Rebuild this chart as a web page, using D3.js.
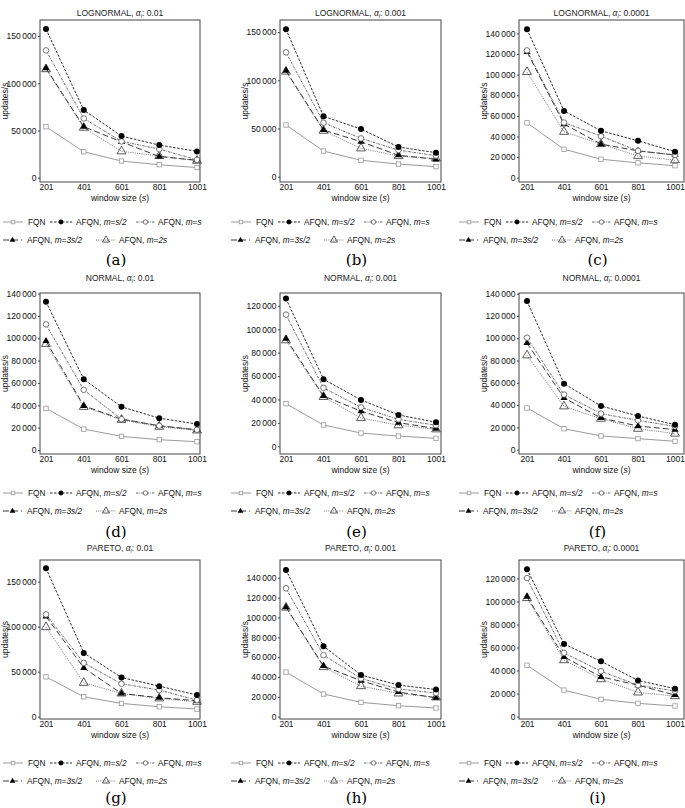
<!DOCTYPE html>
<html><head><meta charset="utf-8">
<script src="https://cdn.jsdelivr.net/npm/d3@7"></script>
<style>body{margin:0;background:#fff}svg{display:block}</style>
</head><body>
<svg id="c" width="685" height="808"></svg>
<script>
// ---------- DATA ----------
const windowSizes = [201, 401, 601, 801, 1001];
const distributions = ["LOGNORMAL","LOGNORMAL","LOGNORMAL","NORMAL","NORMAL","NORMAL","PARETO","PARETO","PARETO"];
const alphas = ["0.01","0.001","0.0001","0.01","0.001","0.0001","0.01","0.001","0.0001"];
const captions = ["(a)","(b)","(c)","(d)","(e)","(f)","(g)","(h)","(i)"];
const seriesNames = ["FQN","AFQN, m=s/2","AFQN, m=s","AFQN, m=3s/2","AFQN, m=2s"];
// one row per panel (a..i), values at windowSizes
const FQN = [
  [54000, 27500, 17700, 13800, 10800],
  [53600, 26600, 17000, 13100, 10400],
  [53200, 27600, 17900, 14400, 11600],
  [37200, 18700, 12200, 9200, 7400],
  [36400, 18200, 11300, 8700, 6800],
  [37400, 18800, 12300, 9900, 7500],
  [44200, 22100, 14700, 11000, 8500],
  [44900, 22800, 14400, 11000, 8700],
  [44600, 23000, 15000, 11500, 9200]
];
const AFQN_half = [
  [157400, 71600, 44100, 34600, 27900],
  [153000, 62600, 49400, 30800, 24900],
  [144000, 64800, 45500, 35800, 25200],
  [132600, 63300, 38600, 28500, 23200],
  [126200, 57300, 39600, 26800, 20500],
  [133400, 59200, 39200, 30200, 22400],
  [164800, 70800, 43500, 33900, 24000],
  [148000, 71000, 42000, 31800, 27300],
  [128000, 63000, 48000, 31400, 24200]
];
const AFQN_one = [
  [134800, 62800, 38500, 30300, 19000],
  [129000, 56000, 39700, 27600, 21800],
  [123500, 53500, 40300, 26000, 22000],
  [112400, 53800, 27600, 21700, 18100],
  [112500, 49900, 33300, 23000, 18000],
  [100500, 49400, 32300, 26300, 20900],
  [113500, 59700, 36500, 29500, 18400],
  [129500, 62000, 38500, 27800, 23800],
  [120300, 55300, 39400, 27300, 22200]
];
const AFQN_threeHalf = [
  [116000, 54000, 38000, 22500, 18500],
  [110000, 48400, 36300, 22200, 18000],
  [122000, 52000, 32600, 26000, 22000],
  [97500, 39500, 27600, 21700, 18000],
  [92000, 43000, 30000, 20200, 15100],
  [95700, 46400, 28400, 21200, 18000],
  [111300, 54200, 25800, 21000, 17700],
  [110500, 51000, 36200, 24800, 19000],
  [104200, 51800, 34500, 27300, 18700]
];
const AFQN_two = [
  [115000, 53000, 28000, 23000, 18000],
  [109000, 47700, 29400, 21400, 19000],
  [102600, 44500, 32600, 21000, 17000],
  [95000, 38600, 27000, 20800, 17500],
  [90600, 42200, 24200, 18000, 14500],
  [84700, 38900, 27800, 18800, 14400],
  [99500, 37600, 25800, 20300, 16600],
  [110000, 50000, 30800, 23400, 19400],
  [103000, 49000, 32500, 21000, 17800]
];
const yTickValues = [
  [0, 50000, 100000, 150000],
  [0, 50000, 100000, 150000],
  [0, 20000, 40000, 60000, 80000, 100000, 120000, 140000],
  [0, 20000, 40000, 60000, 80000, 100000, 120000, 140000],
  [0, 20000, 40000, 60000, 80000, 100000, 120000],
  [0, 20000, 40000, 60000, 80000, 100000, 120000, 140000],
  [0, 50000, 100000, 150000],
  [0, 20000, 40000, 60000, 80000, 100000, 120000, 140000],
  [0, 20000, 40000, 60000, 80000, 100000, 120000]
];
const yDomains = [
  [-4500, 167000], [-5500, 162500], [-4200, 153000],
  [-3600, 140500], [-6600, 131000], [-3900, 140600],
  [-2600, 174000], [-2400, 158000], [-2100, 136000]
];

// ---------- LAYOUT ----------
const colFrame = [[40, 200], [280, 441], [519, 684]];
const colX = [[46, 197], [286, 436], [527, 675]];
const rowFrame = [[20, 182], [293, 454], [560, 719]];
const titleY = [16, 281, 551];
const legendY = [222, 493, 763];
const captionY = [265, 537, 803];
const legendOffset = [0, 228, 456];
const font = "'Liberation Sans', Arial, sans-serif";

const svg = d3.select("#c");
const allSeries = [FQN, AFQN_half, AFQN_one, AFQN_threeHalf, AFQN_two];
const styles = [
  {stroke: "#9a9a9a", dash: null, width: 1, marker: "square"},
  {stroke: "#111", dash: "2.5,1.5", width: 0.9, marker: "dot"},
  {stroke: "#555", dash: "2.5,1,0.8,1", width: 0.9, marker: "circle"},
  {stroke: "#222", dash: "6,3", width: 0.9, marker: "tri"},
  {stroke: "#666", dash: "1,1.2", width: 0.9, marker: "otri"}
];

function drawMarker(g, type, x, y, s = 1) {
  if (type === "square") {
    g.append("rect").attr("x", x - 2.2 * s).attr("y", y - 2.2 * s).attr("width", 4.4 * s).attr("height", 4.4 * s)
      .attr("fill", "#fff").attr("stroke", "#999").attr("stroke-width", 0.8);
  } else if (type === "dot") {
    g.append("circle").attr("cx", x).attr("cy", y).attr("r", 3 * s).attr("fill", "#000");
  } else if (type === "circle") {
    g.append("circle").attr("cx", x).attr("cy", y).attr("r", 2.8 * s).attr("fill", "#fff")
      .attr("stroke", "#555").attr("stroke-width", 0.8);
  } else if (type === "tri") {
    g.append("path").attr("d", d3.symbol(d3.symbolTriangle, 22 * s * s)()).attr("transform", `translate(${x},${y})`)
      .attr("fill", "#000");
  } else if (type === "otri") {
    g.append("path").attr("d", d3.symbol(d3.symbolTriangle, 34 * s * s)()).attr("transform", `translate(${x},${y})`)
      .attr("fill", "none").attr("stroke", "#333").attr("stroke-width", 0.8);
  }
}

const fmt = v => v === 0 ? "0" : d3.format(",")(v).replace(/,/g, "\u2009");

for (let p = 0; p < 9; p++) {
  const col = p % 3, row = Math.floor(p / 3);
  const [fx0, fx1] = colFrame[col];
  const [fy0, fy1] = rowFrame[row];
  const x = d3.scaleLinear().domain([201, 1001]).range(colX[col]);
  const y = d3.scaleLinear().domain(yDomains[p]).range([fy1, fy0]);
  const g = svg.append("g");

  // title
  const t = g.append("text").attr("x", (fx0 + fx1) / 2).attr("y", titleY[row])
    .attr("text-anchor", "middle").attr("font-family", font).attr("font-size", 8.5).attr("fill", "#222");
  t.append("tspan").text(distributions[p] + ", ");
  t.append("tspan").attr("font-style", "italic").text("α");
  t.append("tspan").attr("font-size", 5.5).attr("font-style", "italic").attr("dy", 2).text("l");
  t.append("tspan").attr("dy", -2).text(": " + alphas[p]);

  // axes
  const yAxis = d3.axisLeft(y).tickValues(yTickValues[p]).tickFormat(fmt).tickSize(2).tickPadding(1.5);
  const ya = g.append("g").attr("transform", `translate(${fx0},0)`).call(yAxis);
  const xAxis = d3.axisBottom(x).tickValues(windowSizes).tickFormat(d3.format("d")).tickSize(0).tickPadding(2);
  const xa = g.append("g").attr("transform", `translate(0,${fy1})`).call(xAxis);
  [ya, xa].forEach(a => {
    a.select(".domain").remove();
    a.selectAll("text").attr("font-family", font).attr("font-size", 8.5).attr("fill", "#111");
    a.selectAll("line").attr("stroke", "#444");
  });

  // axis labels
  g.append("text").attr("x", (fx0 + fx1) / 2).attr("y", fy1 + 19).attr("text-anchor", "middle")
    .attr("font-family", font).attr("font-size", 8.5).attr("fill", "#111")
    .call(s => { s.append("tspan").text("window size ("); s.append("tspan").attr("font-style", "italic").text("s"); s.append("tspan").text(")"); });
  g.append("text").attr("transform", `translate(${fx0 - 32},${(fy0 + fy1) / 2}) rotate(-90)`)
    .attr("text-anchor", "middle").attr("font-family", font).attr("font-size", 8.5).attr("fill", "#111")
    .text("updates/s");

  // series
  const line = d3.line().x((d, i) => x(windowSizes[i])).y(d => y(d));
  const order = [0, 4, 3, 2, 1];
  order.forEach(si => {
    const st = styles[si];
    g.append("path").datum(allSeries[si][p]).attr("d", line).attr("fill", "none")
      .attr("stroke", st.stroke).attr("stroke-width", st.width).attr("stroke-dasharray", st.dash);
  });
  order.forEach(si => {
    allSeries[si][p].forEach((v, i) => drawMarker(g, styles[si].marker, x(windowSizes[i]), y(v)));
  });

  // frame
  g.append("rect").attr("x", fx0).attr("y", fy0).attr("width", fx1 - fx0).attr("height", fy1 - fy0)
    .attr("fill", "none").attr("stroke", "#444").attr("stroke-width", 1);

  // legend
  const lx = legendOffset[col];
  const ly1 = legendY[row], ly2 = ly1 + 18;
  const items = [
    {si: 0, x0: lx + 3, x1: lx + 23, tx: lx + 28, y: ly1},
    {si: 1, x0: lx + 50, x1: lx + 72, tx: lx + 76, y: ly1},
    {si: 2, x0: lx + 136, x1: lx + 155, tx: lx + 158, y: ly1},
    {si: 3, x0: lx + 3, x1: lx + 22, tx: lx + 27, y: ly2},
    {si: 4, x0: lx + 96, x1: lx + 116, tx: lx + 119, y: ly2}
  ];
  items.forEach(it => {
    const st = styles[it.si];
    g.append("line").attr("x1", it.x0).attr("x2", it.x1).attr("y1", it.y).attr("y2", it.y)
      .attr("stroke", st.stroke).attr("stroke-width", st.width).attr("stroke-dasharray", st.dash);
    drawMarker(g, st.marker, (it.x0 + it.x1) / 2, it.y, 0.8);
    const name = seriesNames[it.si];
    const tx = g.append("text").attr("x", it.tx).attr("y", it.y + 3).attr("font-family", font)
      .attr("font-size", 8.3).attr("fill", "#111");
    if (name.indexOf("m=") >= 0) {
      const rest = name.split("m=")[1];
      tx.append("tspan").text("AFQN, ");
      tx.append("tspan").attr("font-style", "italic").text("m=" + rest);
    } else tx.text(name);
  });

  // caption
  g.append("text").attr("x", (fx0 + fx1) / 2 - 4).attr("y", captionY[row]).attr("text-anchor", "middle")
    .attr("font-family", "'DejaVu Serif', 'Liberation Serif', serif").attr("font-size", 15).attr("fill", "#000")
    .text(captions[p]);
}
</script>
</body></html>
